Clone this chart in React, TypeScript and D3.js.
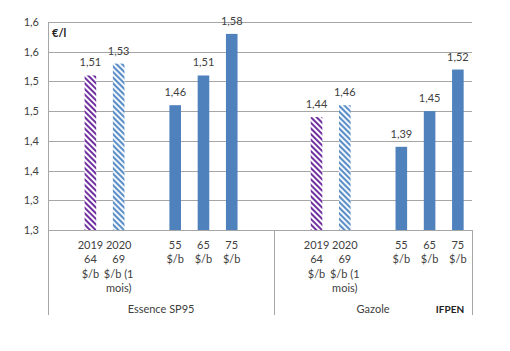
import React from "react";
import * as d3 from "d3";

// data
const groupNames = ["Essence SP95", "Gazole"];
const slotLabels = [
  [[], ["2019", "64", "$/b"], ["2020", "69", "$/b (1", "mois)"], [], ["55", "$/b"], ["65", "$/b"], ["75", "$/b"], []],
  [[], ["2019", "64", "$/b"], ["2020", "69", "$/b (1", "mois)"], [], ["55", "$/b"], ["65", "$/b"], ["75", "$/b"]],
];
const essenceValues = [null, 1.51, 1.53, null, 1.46, 1.51, 1.58, null];
const gazoleValues = [null, 1.44, 1.46, null, 1.39, 1.45, 1.52];
const barKinds = ["", "h2019", "h2020", "", "solid", "solid", "solid", ""];
const tickValues = [1.25, 1.3, 1.35, 1.4, 1.45, 1.5, 1.55, 1.6];
const tickLabels = ["1,3", "1,3", "1,4", "1,4", "1,5", "1,5", "1,6", "1,6"];

const W = 510;
const H = 351;
const left = 48, right = 472, top = 22, bottom = 230, catBottom = 315;
const font = "Lato, 'Liberation Sans', sans-serif";
const textColor = "#404040";
const lineColor = "#a6a6a6";

export default function App() {
  const allValues = [essenceValues, gazoleValues];
  // flatten slots into one band scale
  const slots: { g: number; i: number; key: string }[] = [];
  allValues.forEach((vals, g) => vals.forEach((_, i) => slots.push({ g, i, key: g + "-" + i })));

  const x = d3.scaleBand<string>()
    .domain(slots.map(s => s.key))
    .range([left, right])
    .paddingInner(0.59)
    .paddingOuter(0.295);
  const y = d3.scaleLinear().domain([1.25, 1.6]).range([bottom, top]);
  const step = x.step();

  // group boundaries
  let acc = left;
  const groupEdges = allValues.map(vals => {
    const x0 = acc;
    acc = acc + vals.length * step;
    return [x0, acc];
  });

  const fmt = (v: number) => v.toFixed(2).replace(".", ",");

  return (
    <svg width={W} height={H} style={{ position: "absolute", left: 0, top: 0, background: "#fff" }} fontFamily={font}>
      <defs>
        <pattern id="h2019" width="4" height="4" patternUnits="userSpaceOnUse" patternTransform="rotate(-45)">
          <rect width="4" height="4" fill="#fff" />
          <rect width="2" height="4" fill="#7030a0" />
        </pattern>
        <pattern id="h2020" width="4" height="4" patternUnits="userSpaceOnUse" patternTransform="rotate(-45)">
          <rect width="4" height="4" fill="#f2f7fc" />
          <rect width="2" height="4" fill="#5b8ec6" />
        </pattern>
      </defs>

      {/* gridlines */}
      {tickValues.map((t, k) => (
        <g key={k}>
          <line x1={left} x2={right} y1={Math.round(y(t)) + 0.5} y2={Math.round(y(t)) + 0.5} stroke={lineColor} />
          <text x={39} y={y(t) + 4} textAnchor="end" fontSize={11} fill={textColor}>{tickLabels[k]}</text>
        </g>
      ))}

      {/* axis lines and category box */}
      <line x1={left + 0.5} x2={left + 0.5} y1={top} y2={catBottom} stroke={lineColor} />
      {groupEdges.map((e, g) => (
        <line key={g} x1={Math.round(e[1]) + 0.5} x2={Math.round(e[1]) + 0.5} y1={bottom} y2={catBottom} stroke={lineColor} />
      ))}

      {/* bars */}
      {slots.map(s => {
        const v = allValues[s.g][s.i];
        if (v == null) return null;
        const kind = barKinds[s.i];
        const bx = x(s.key)!;
        const fill = kind === "solid" ? "#4f81bd" : `url(#${kind})`;
        return (
          <g key={s.key}>
            <rect x={bx} y={y(v)} width={x.bandwidth()} height={bottom - y(v)} fill={fill} />
            <text x={bx + x.bandwidth() / 2} y={y(v) - 9} textAnchor="middle" fontSize={11} fill={textColor}>{fmt(v)}</text>
          </g>
        );
      })}

      {/* category labels */}
      {slots.map(s => {
        const lines = slotLabels[s.g][s.i];
        const cx = x(s.key)! + x.bandwidth() / 2;
        return (
          <text key={"c" + s.key} x={cx} textAnchor="middle" fontSize={11} fill={textColor}>
            {lines.map((l, k) => (
              <tspan key={k} x={cx} y={249 + k * 14.4}>{l}</tspan>
            ))}
          </text>
        );
      })}

      {groupNames.map((n, g) => (
        <text key={n} x={(groupEdges[g][0] + groupEdges[g][1]) / 2} y={313} textAnchor="middle" fontSize={11} fill={textColor}>{n}</text>
      ))}

      <text x={52} y={37} fontSize={11} fontWeight="bold" fill="#222">€/l</text>
      <text x={450} y={313} textAnchor="middle" fontSize={10} fontWeight="bold" fill="#222">IFPEN</text>
    </svg>
  );
}
